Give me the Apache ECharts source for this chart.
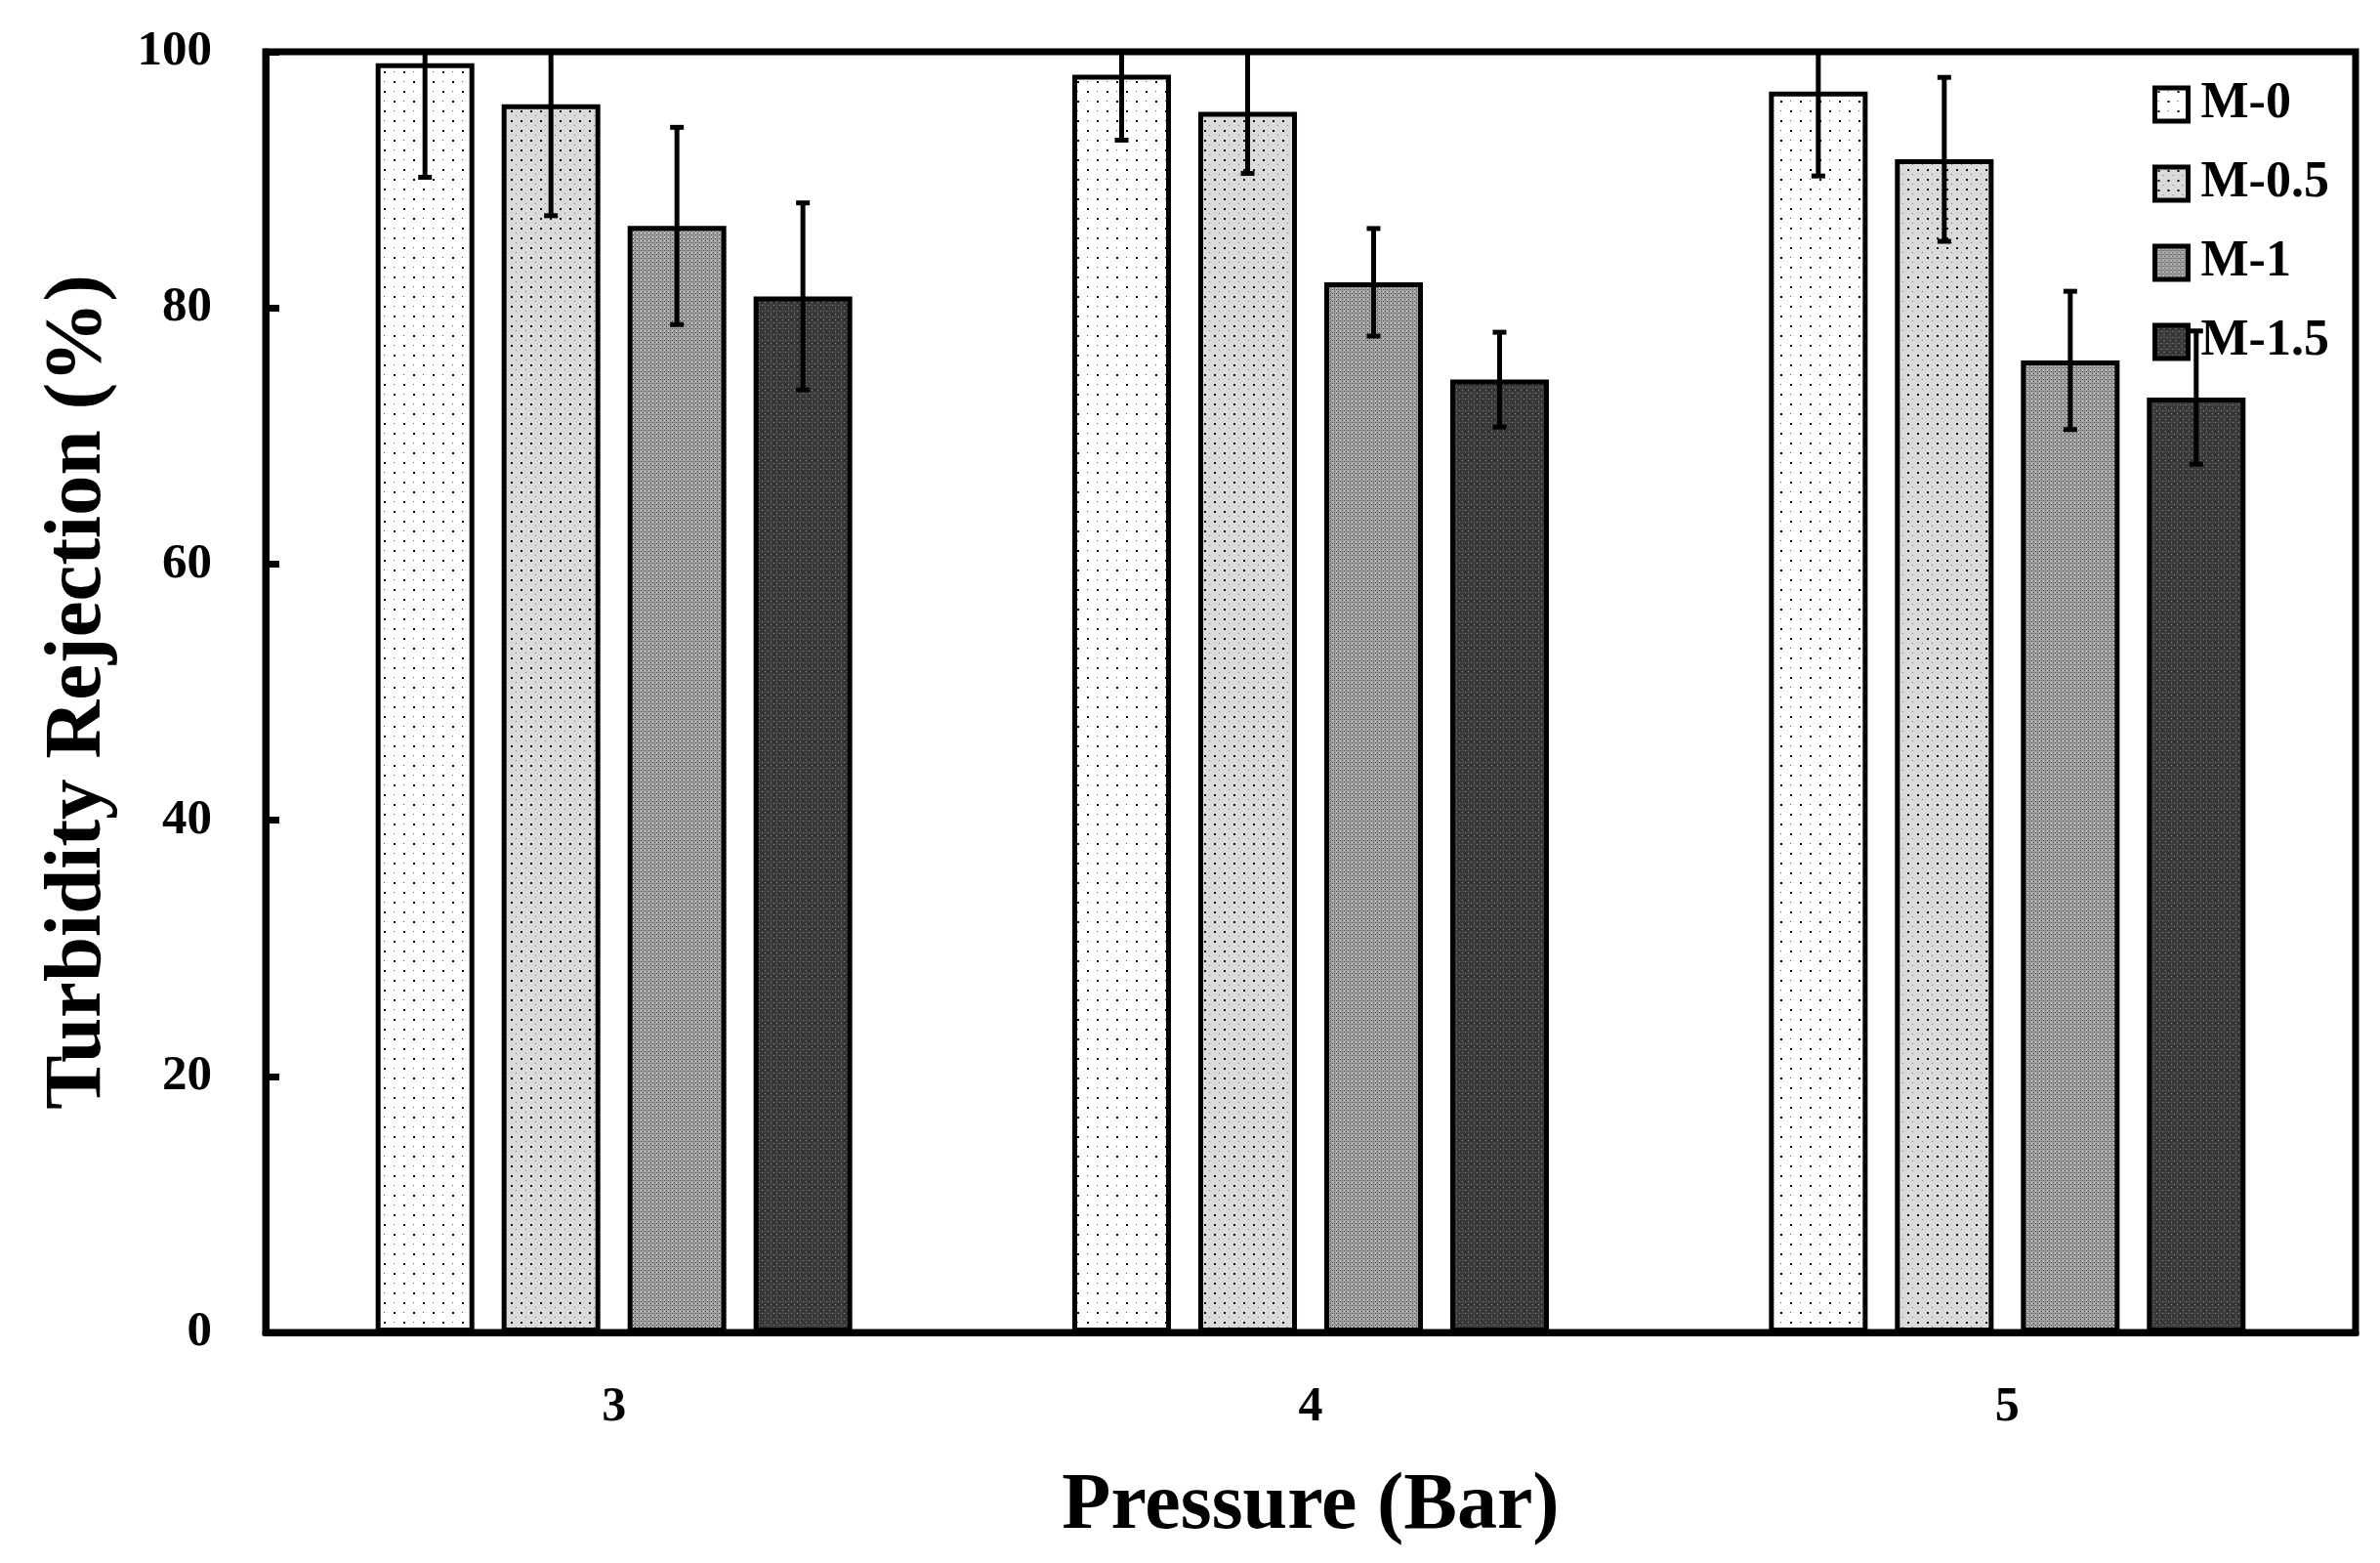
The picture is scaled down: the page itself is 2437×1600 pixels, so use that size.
<!DOCTYPE html>
<html>
<head>
<meta charset="utf-8">
<script src="https://cdn.jsdelivr.net/npm/echarts@6/dist/echarts.min.js"></script>
<style>
html,body{margin:0;padding:0;background:#fff;}
#chart{width:2437px;height:1600px;}
</style>
</head>
<body>
<div id="chart"></div>
<script>
// ---- data ----
const categories = ['3', '4', '5'];
const seriesNames = ['M-0', 'M-0.5', 'M-1', 'M-1.5'];
const m0 = [99.1, 98.2, 96.9];
const m0Err = [8.9, 5.1, 6.6];
const m05 = [95.9, 95.3, 91.6];
const m05Err = [8.7, 4.8, 6.4];
const m1 = [86.4, 82.0, 75.9];
const m1Err = [7.7, 4.2, 5.4];
const m15 = [80.9, 74.4, 73.0];
const m15Err = [7.3, 3.7, 5.2];
const yTicks = [0, 20, 40, 60, 80, 100];

const values = [m0, m05, m1, m15];
const errors = [m0Err, m05Err, m1Err, m15Err];

// ---- styles ----
const BAR_FRAC = 0.1416;
const GAP_FRAC = 0.277;
const FONT = 'Liberation Serif';

function makePattern(size, bg, dots) {
  const c = document.createElement('canvas');
  c.width = size; c.height = size;
  const ctx = c.getContext('2d');
  ctx.fillStyle = bg; ctx.fillRect(0, 0, size, size);
  dots.forEach(d => { ctx.fillStyle = d[3]; ctx.fillRect(d[0], d[1], d[2], d[2]); });
  return { image: c, repeat: 'repeat' };
}
const patterns = [
  makePattern(20, '#ffffff', [[3,3,2,'#000'],[13,13,2,'#000'],[13,3,1,'#555'],[3,13,1,'#555']]),
  makePattern(10, '#dadada', [[3,3,2,'#111'],[8,8,1,'#777']]),
  makePattern(4, '#a4a4a4', [[0,0,1,'#484848'],[2,2,1,'#484848'],[2,0,1,'#707070'],[0,2,1,'#cccccc']]),
  makePattern(6, '#3a3a3a', [[0,0,1,'#8a8a8a'],[3,3,1,'#8a8a8a'],[3,0,1,'#5c5c5c'],[0,3,1,'#1a1a1a']])
];

const chart = echarts.init(document.getElementById('chart'));

const series = [];
seriesNames.forEach((name, i) => {
  series.push({
    name: name,
    type: 'bar',
    data: values[i],
    barWidth: (BAR_FRAC * 100) + '%',
    barGap: (GAP_FRAC * 100) + '%',
    itemStyle: { color: patterns[i], borderColor: '#000', borderWidth: 5 },
    z: 2
  });
});
seriesNames.forEach((name, i) => {
  series.push({
    name: name + ' err',
    type: 'custom',
    clip: true,
    z: 3,
    data: values[i].map((v, k) => [k, v, errors[i][k]]),
    encode: { x: 0, y: 1 },
    renderItem: function (params, api) {
      const ci = api.value(0), v = api.value(1), e = api.value(2);
      const base = api.coord([ci, v]);
      const band = api.size([1, 0])[0];
      const w = band * BAR_FRAC;
      const gap = w * GAP_FRAC;
      const total = 4 * w + 3 * gap;
      const x = base[0] - total / 2 + w / 2 + i * (w + gap);
      const top = api.coord([ci, v + e])[1];
      const bot = api.coord([ci, v - e])[1];
      const cap = 7;
      const st = { stroke: '#000', lineWidth: 5 };
      return {
        type: 'group',
        children: [
          { type: 'line', shape: { x1: x, y1: top, x2: x, y2: bot }, style: st },
          { type: 'line', shape: { x1: x - cap, y1: top, x2: x + cap, y2: top }, style: st },
          { type: 'line', shape: { x1: x - cap, y1: bot, x2: x + cap, y2: bot }, style: st }
        ]
      };
    }
  });
});

chart.setOption({
  animation: false,
  backgroundColor: '#fff',
  textStyle: { fontFamily: FONT, color: '#000' },
  grid: {
    left: 272, right: 25, top: 53, bottom: 236,
    show: true, borderColor: '#000', borderWidth: 7, backgroundColor: 'transparent'
  },
  legend: {
    data: seriesNames,
    orient: 'vertical',
    left: 2199, top: 76,
    icon: 'rect',
    itemWidth: 34, itemHeight: 34,
    itemGap: 29,
    itemStyle: { borderColor: '#000', borderWidth: 5 },
    textStyle: { fontFamily: FONT, fontWeight: 'bold', fontSize: 52, color: '#000', lineHeight: 50, padding: [0, 0, 0, 8] }
  },
  xAxis: {
    type: 'category',
    data: categories,
    name: 'Pressure (Bar)',
    nameLocation: 'middle',
    nameGap: 138,
    nameTextStyle: { fontFamily: FONT, fontWeight: 'bold', fontSize: 82, color: '#000' },
    axisLine: { lineStyle: { color: '#000', width: 7 } },
    axisTick: { show: false },
    axisLabel: { fontFamily: FONT, fontWeight: 'bold', fontSize: 50, color: '#000', margin: 52 },
    splitLine: { show: false }
  },
  yAxis: {
    type: 'value',
    min: yTicks[0], max: yTicks[yTicks.length - 1], interval: 20,
    name: 'Turbidity Rejection (%)',
    nameLocation: 'middle',
    nameGap: 150,
    nameTextStyle: { fontFamily: FONT, fontWeight: 'bold', fontSize: 83, color: '#000' },
    axisLine: { show: true, lineStyle: { color: '#000', width: 7 } },
    axisTick: { show: true, inside: true, length: 14, lineStyle: { color: '#000', width: 7 } },
    axisLabel: { fontFamily: FONT, fontWeight: 'bold', fontSize: 51, color: '#000', margin: 55 },
    splitLine: { show: false }
  },
  series: series
});
</script>
</body>
</html>
